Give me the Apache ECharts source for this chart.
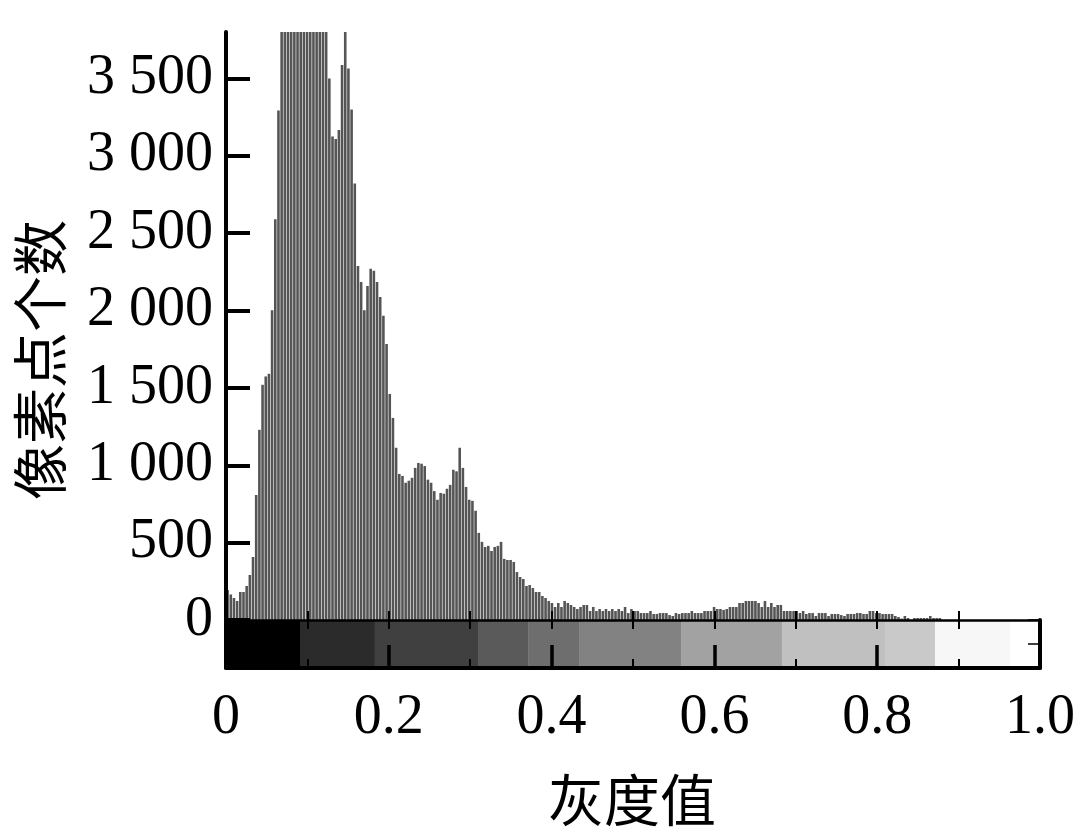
<!DOCTYPE html>
<html><head><meta charset="utf-8">
<script src="https://cdn.jsdelivr.net/npm/echarts@6/dist/echarts.min.js"></script>
<style>html,body{margin:0;padding:0;background:#fff}#c{width:1081px;height:834px}</style>
</head><body><div id="c"></div>
<script>
const binCount = 256;
const counts = [
  194,165,142,123,181,181,220,291,407,808,1229,1520,1574,1591,2002,2590,3292,
  4300,4600,4900,5100,5200,5200,5100,5000,4900,4800,4600,4500,4300,4100,3950,
  3500,3125,3108,3167,3586,3950,3564,3299,2821,
  2287,2184,2002,2159,2270,2257,2184,2088,1966,1784,1461,1306,1113,944,931,887,900,919,983,
  1015,1010,995,907,887,833,777,821,816,848,873,971,961,1113,983,860,777,770,706,
  563,505,472,479,446,472,479,505,395,388,388,375,310,278,265,220,226,207,181,181,155,142,123,110,84,110,84,123,110,97,84,71,84,97,97,58,84,
  58,71,58,71,58,71,58,71,58,84,45,71,58,58,45,45,45,58,39,39,45,45,45,32,26,45,39,45,45,45,58,45,45,45,58,58,58,84,71,71,65,71,84,84,84,
  110,110,123,123,123,123,110,84,123,84,110,84,97,97,
  58,58,58,58,58,45,58,39,45,45,26,45,45,45,26,39,39,39,32,26,39,39,39,45,45,39,39,58,58,45,45,39,39,39,39,26,19,9,26,13,0,13,13,13,13,13,26,13,13,13
];
const yTickValues = [0,500,1000,1500,2000,2500,3000,3500];
const xTickLabels = ['0','0.2','0.4','0.6','0.8','1.0'];
const innerTickValues = [0.1,0.2,0.3,0.4,0.5,0.6,0.7,0.8,0.9];
const bandEdges = [0, 0.0909, 0.183, 0.3096, 0.372, 0.4337, 0.559, 0.683, 0.8096, 0.871, 0.963];
const bandColors = ['#000000','#2b2b2b','#404040','#5a5a5a','#6e6e6e','#828282','#a2a2a2','#c0c0c0','#c9c9c9','#f7f7f7'];
const yName = '像素点个数';
const xName = '灰度值';

const chart = echarts.init(document.getElementById('c'), null, {renderer:'canvas'});
const serif = 'Liberation Serif';
const cjk = 'Noto Sans CJK SC';
function fmtY(v){
  if (v >= 1000) return Math.floor(v/1000) + ' ' + String(v%1000).padStart(3,'0');
  return String(v);
}
const option = {
  animation: false,
  backgroundColor: '#fff',
  grid: [
    {left:226, top:32, width:814, height:588},
    {left:226, top:620, width:814, height:48}
  ],
  xAxis: [
    {gridIndex:0, type:'value', min:0, max:1, interval:0.1, z:10,
     axisLine:{show:true, onZero:false, lineStyle:{color:'#000', width:2.5}},
     axisTick:{show:true, inside:false, length:9, lineStyle:{color:'#000', width:2}},
     axisLabel:{show:false}, splitLine:{show:false}},
    {gridIndex:0, type:'value', min:0, max:1, interval:0.1, offset:0, position:'bottom', z:10,
     axisLine:{show:false},
     axisTick:{show:true, inside:true, length:9, customValues:innerTickValues, lineStyle:{color:'#000', width:2}},
     axisLabel:{show:false}, splitLine:{show:false}},
    {gridIndex:1, type:'value', min:0, max:1, interval:0.2, z:10,
     axisLine:{show:true, onZero:false, lineStyle:{color:'#000', width:4}},
     axisTick:{show:true, inside:true, length:23, lineStyle:{color:'#000', width:3.5}},
     minorTick:{show:true, splitNumber:2, length:9, lineStyle:{color:'#000', width:2}},
     axisLabel:{show:true, margin:22, color:'#000', fontFamily:serif, fontSize:56,
       formatter:(v)=>xTickLabels[Math.round(v/0.2)]},
     splitLine:{show:false}}
  ],
  yAxis: [
    {gridIndex:0, type:'value', min:0, max:3800, interval:500, z:10,
     axisLine:{show:true, onZero:false, lineStyle:{color:'#000', width:4}},
     axisTick:{show:true, inside:true, length:24, lineStyle:{color:'#000', width:4}},
     axisLabel:{show:true, margin:13, color:'#000', fontFamily:serif, fontSize:56, showMaxLabel:false,
       formatter:(v)=> yTickValues.indexOf(v) >= 0 ? fmtY(v) : ''},
     splitLine:{show:false}},
    {gridIndex:1, type:'value', min:0, max:1, z:10,
     axisLine:{show:true, onZero:false, lineStyle:{color:'#000', width:4}},
     axisTick:{show:false}, axisLabel:{show:false}, splitLine:{show:false}},
    {gridIndex:1, type:'value', position:'right', min:0, max:2, interval:1, z:10,
     axisLine:{show:true, onZero:false, lineStyle:{color:'#000', width:4}},
     axisTick:{show:true, inside:true, length:12, lineStyle:{color:'#000', width:1.5}},
     axisLabel:{show:false}, splitLine:{show:false}}
  ],
  series: [
    {type:'bar', xAxisIndex:0, yAxisIndex:0, barWidth:2.6, clip:true, z:2,
     itemStyle:{color:'#555555'},
     data: counts.map((v,i)=>[(i+0.5)/binCount, v])},
    {type:'custom', xAxisIndex:2, yAxisIndex:1, z:1, clip:true,
     data: bandColors.map((c,i)=>[bandEdges[i], bandEdges[i+1], i]),
     renderItem: function(params, api){
       const a = api.coord([api.value(0), 1]);
       const b = api.coord([api.value(1), 0]);
       return {type:'rect', shape:{x:a[0], y:a[1], width:b[0]-a[0], height:b[1]-a[1]},
               style:{fill: bandColors[api.value(2)]}};
     }}
  ],
  graphic: [
    {type:'text', x:40, y:360, rotation:Math.PI/2,
     style:{text:yName, fontFamily:cjk, fontSize:56, fill:'#000', textAlign:'center', textVerticalAlign:'middle'}},
    {type:'text', x:632, y:800,
     style:{text:xName, fontFamily:cjk, fontSize:56, fill:'#000', textAlign:'center', textVerticalAlign:'middle'}}
  ]
};
chart.setOption(option);
</script>
</body></html>
